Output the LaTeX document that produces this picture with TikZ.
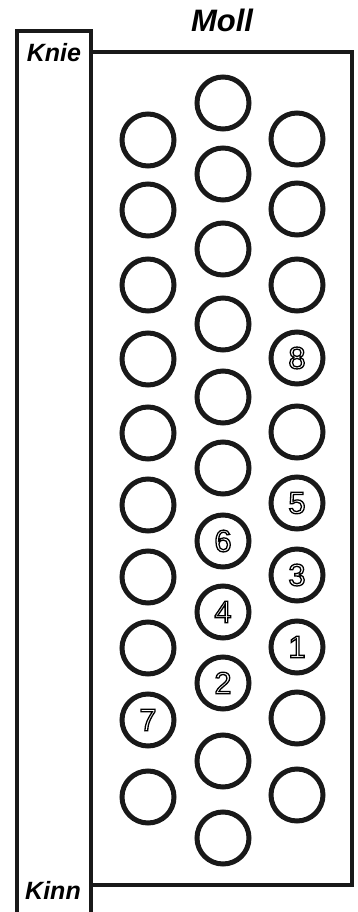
\documentclass[tikz,border=0pt]{standalone}
\usepackage{fontspec}
\setmainfont{Liberation Sans}
\usepackage{xcolor}
\usepackage{tikz}
\usetikzlibrary{positioning}
\newcommand{\hohl}[1]{\special{pdf:code q 1 Tr 1.3 w}#1\special{pdf:code Q}}
\tikzset{
    rahmen/.style={draw=black!90, line width=4.5pt},
    knopf/.style={circle, draw=black!90, line width=5pt, minimum size=52pt,
                  inner sep=0pt, font=\fontsize{31}{31}\selectfont},
    seitelbl/.style={font=\fontsize{25}{25}\selectfont\bfseries\itshape,
                     inner sep=0pt},
}
\begin{document}
\begin{tikzpicture}[x=1pt, y=-1pt]
    \useasboundingbox (0,0) rectangle (357,912);
    % Seitenleiste und Knopffeld
    \draw[rahmen] (17,930) |- (91,31) -- (91,930);
    \draw[rahmen] (91,52) rectangle (352,885);
    \node[seitelbl, font=\fontsize{31}{31}\selectfont\bfseries\itshape] (moll) at (222,20) {Moll};
    \node[seitelbl] (knie) at (54,53) {Knie};
    \node[seitelbl] (kinn) at (53,890) {Kinn};
    % linke Reihe
    \node[knopf] (l1) at (148,140) {};
    \node[knopf] (l2) at (148,210) {};
    \node[knopf] (l3) at (148,285) {};
    \node[knopf] (l4) at (148,359) {};
    \node[knopf] (l5) at (148,433) {};
    \node[knopf] (l6) at (148,505) {};
    \node[knopf] (l7) at (148,577) {};
    \node[knopf] (l8) at (148,648) {};
    \node[knopf] (l9) at (148,720) {\hohl{7}};
    \node[knopf] (l10) at (148,797) {};
    % mittlere Reihe
    \node[knopf] (m1) at (223,103) {};
    \node[knopf] (m2) at (223,174) {};
    \node[knopf] (m3) at (223,249) {};
    \node[knopf] (m4) at (223,324) {};
    \node[knopf] (m5) at (223,397) {};
    \node[knopf] (m6) at (223,468) {};
    \node[knopf] (m7) at (223,541) {\hohl{6}};
    \node[knopf] (m8) at (223,612) {\hohl{4}};
    \node[knopf] (m9) at (223,683) {\hohl{2}};
    \node[knopf] (m10) at (223,761) {};
    \node[knopf] (m11) at (223,838) {};
    % rechte Reihe
    \node[knopf] (r1) at (297,139) {};
    \node[knopf] (r2) at (297,209) {};
    \node[knopf] (r3) at (297,285) {};
    \node[knopf] (r4) at (297,358) {\hohl{8}};
    \node[knopf] (r5) at (297,432) {};
    \node[knopf] (r6) at (297,503) {\hohl{5}};
    \node[knopf] (r7) at (297,575) {\hohl{3}};
    \node[knopf] (r8) at (297,647) {\hohl{1}};
    \node[knopf] (r9) at (297,718) {};
    \node[knopf] (r10) at (297,795) {};
\end{tikzpicture}
\end{document}
